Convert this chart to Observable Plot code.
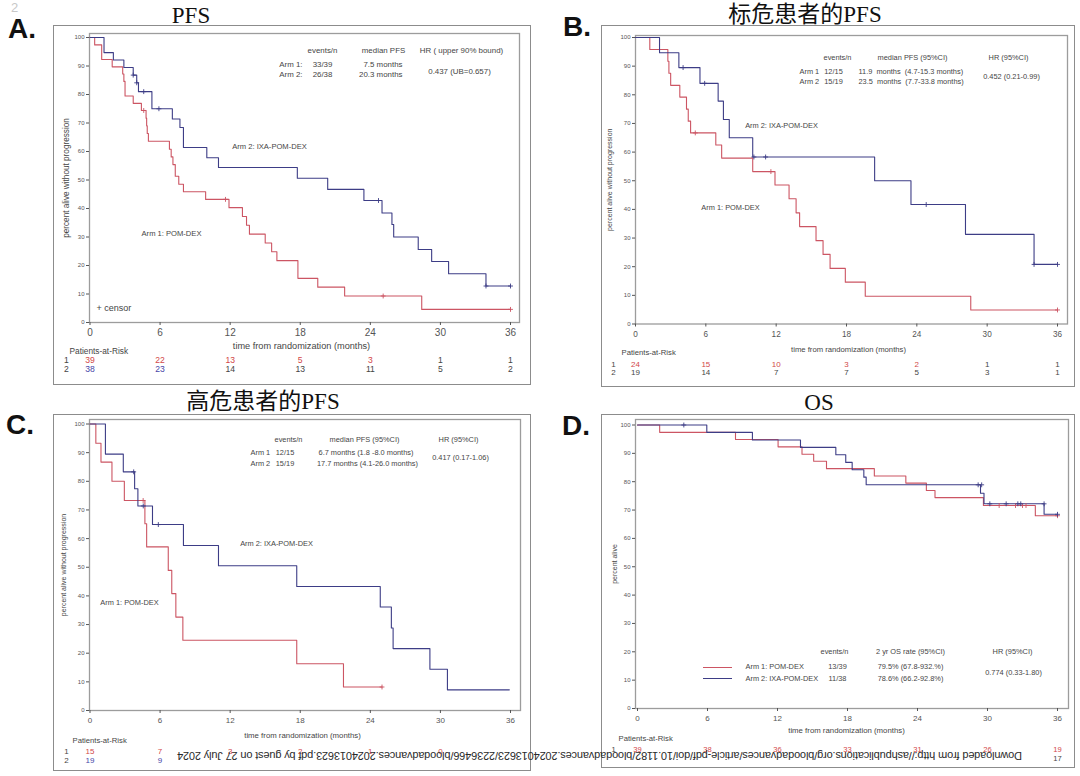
<!DOCTYPE html>
<html><head><meta charset="utf-8">
<script src="https://cdn.jsdelivr.net/npm/d3@7"></script>
<script src="https://cdn.jsdelivr.net/npm/@observablehq/plot@0.6"></script>
<style>
body{margin:0;background:#fff;}
#root{position:relative;width:1080px;height:776px;overflow:hidden;background:#fff;font-family:"Liberation Sans",Arial,sans-serif;}
.box{position:absolute;border:1.5px solid #8c8c8c;box-sizing:border-box;}
.title{position:absolute;font-family:"Liberation Serif","Noto Sans CJK SC",serif;font-size:23px;color:#111;transform:translate(-50%,-50%);white-space:nowrap;line-height:1;}
.letter{position:absolute;font-family:"Liberation Sans",Arial,sans-serif;font-weight:bold;font-size:28px;color:#111;transform:translateY(-50%);line-height:1;}
.swatch{position:absolute;height:0;border-top:1.2px solid;}
</style></head><body><div id="root"></div>
<script>
// ---------- shared ticks ----------
const monthTicks = [0, 6, 12, 18, 24, 30, 36];
const pctTicks = [0, 10, 20, 30, 40, 50, 60, 70, 80, 90, 100];

// ---------- Panel A: PFS ----------
const aArm1Time = [0, 0.4, 1.0, 1.9, 2.8, 2.9, 3.0, 3.7, 4.4, 4.8, 4.85, 4.9, 5.0, 6.8, 6.95, 7.1, 7.3, 7.6, 8.0, 9.9, 11.9, 13.05, 13.4, 13.65, 15.0, 15.55, 16.0, 17.8, 19.5, 21.8, 28.4, 36];
const aArm1Pct  = [100, 97.4, 92.3, 89.7, 87.2, 84.6, 79.5, 76.9, 74.4, 71.7, 69.0, 66.3, 63.6, 60.8, 58.1, 55.4, 51.3, 48.5, 45.9, 43.2, 40.3, 37.2, 34.1, 31.0, 27.9, 24.8, 21.7, 15.5, 12.4, 9.3, 4.6, 4.6];
const aArm2Time = [0, 1.2, 2.0, 2.9, 3.7, 4.0, 4.15, 5.3, 7.05, 7.7, 8.0, 10.0, 11.0, 17.75, 20.35, 23.45, 25.0, 25.85, 26.0, 28.1, 29.25, 30.7, 33.9, 36];
const aArm2Pct  = [100, 94.7, 92.1, 89.5, 86.8, 84.1, 81.0, 75.0, 71.4, 68.4, 61.4, 57.8, 54.4, 50.6, 46.7, 42.8, 38.4, 34.4, 30.0, 25.6, 21.4, 17.1, 12.8, 12.8];
const aCens1Time = [4.6, 11.6, 25.1, 36];
const aCens1Pct  = [74.4, 43.2, 9.3, 4.6];
const aCens2Time = [3.7, 4.0, 4.6, 5.9, 24.7, 33.9, 36];
const aCens2Pct  = [86.8, 84.1, 81.0, 75.0, 42.8, 12.8, 12.8];
const aRisk1 = [39, 22, 13, 5, 3, 1, 1];
const aRisk2 = [38, 23, 14, 13, 11, 5, 2];

// ---------- Panel B: standard-risk PFS ----------
const bArm1Time = [0, 1.22, 2.76, 2.85, 3.0, 3.78, 4.35, 4.5, 4.7, 6.85, 7.35, 10.0, 11.9, 13.1, 13.7, 14.0, 15.4, 16.0, 16.6, 17.9, 19.6, 28.6, 36];
const bArm1Pct  = [100, 95.8, 91.7, 87.5, 83.3, 79.2, 75.0, 70.8, 66.7, 62.5, 57.9, 53.2, 48.5, 43.7, 38.8, 34.0, 29.1, 24.3, 19.4, 14.6, 9.7, 4.9, 4.9];
const bArm2Time = [0, 2.05, 3.7, 5.5, 7.05, 7.5, 8.0, 10.0, 20.4, 23.5, 28.15, 34.0, 36];
const bArm2Pct  = [100, 94.7, 89.5, 84.0, 77.8, 71.4, 65.0, 58.3, 50.0, 41.7, 31.3, 20.8, 20.8];
const bCens1Time = [5.1, 11.55, 36];
const bCens1Pct  = [66.7, 53.2, 4.9];
const bCens2Time = [4.06, 5.9, 10.1, 11.1, 24.8, 34.0, 36];
const bCens2Pct  = [89.5, 84.0, 58.3, 58.3, 41.7, 20.8, 20.8];
const bRisk1 = [24, 15, 10, 3, 2, 1, 1];
const bRisk2 = [19, 14, 7, 7, 5, 3, 1];

// ---------- Panel C: high-risk PFS ----------
const cArm1Time = [0, 0.5, 0.94, 1.88, 2.94, 4.7, 4.85, 6.7, 7.0, 7.35, 7.95, 17.7, 21.7, 25.0];
const cArm1Pct  = [100, 93.3, 86.7, 80.0, 73.3, 65.2, 57.1, 48.9, 40.8, 32.6, 24.5, 16.3, 8.2, 8.2];
const cArm2Time = [0, 1.32, 2.85, 3.82, 4.1, 5.35, 8.0, 11.0, 17.7, 24.85, 25.8, 25.95, 29.1, 30.6, 35.9];
const cArm2Pct  = [100, 89.5, 83.3, 77.4, 71.4, 64.9, 57.6, 50.5, 43.3, 36.1, 28.8, 21.6, 14.4, 7.2, 7.2];
const cCens1Time = [4.55, 25.0];
const cCens1Pct  = [73.3, 8.2];
const cCens2Time = [3.74, 4.56, 5.85];
const cCens2Pct  = [83.3, 71.4, 64.9];
const cRisk1 = [15, 7, 3, 2, 1, 0];
const cRisk2 = [19, 9];

// ---------- Panel D: OS ----------
const dArm1Time = [0, 1.9, 8.4, 12.05, 14.1, 15.1, 16.2, 20.3, 23.0, 24.76, 25.5, 29.65, 34.1, 36];
const dArm1Pct  = [100, 97.4, 94.9, 92.3, 89.7, 87.2, 84.6, 82.0, 79.5, 76.9, 74.4, 71.6, 68.0, 68.0];
const dArm2Time = [0, 5.94, 9.85, 13.97, 17.0, 17.85, 18.4, 19.4, 19.6, 29.4, 29.7, 34.85, 36];
const dArm2Pct  = [100, 97.4, 94.7, 92.1, 89.5, 86.8, 84.2, 81.6, 78.9, 75.9, 72.2, 68.5, 68.5];
const dCens1Time = [31.0, 32.4, 33.0, 33.3, 36];
const dCens1Pct  = [71.6, 71.6, 71.6, 71.6, 68.0];
const dCens2Time = [3.97, 29.2, 29.5, 30.2, 31.6, 32.6, 32.85, 34.85, 36];
const dCens2Pct  = [100, 78.9, 78.9, 72.2, 72.2, 72.2, 72.2, 72.2, 68.5];
const dRisk1 = [39, 38, 36, 33, 31, 26, 19];
const dRisk2Time = [36];
const dRisk2 = [17];

// ---------- helpers ----------
const RED = "#cc5563", BLUE = "#3d3d86", INK = "#454545";
const RISK_RED = "#d24848", RISK_BLUE = "#4646a8";
const pts = (t, s) => t.map((x, i) => ({t: x, s: s[i]}));
const risk = (t, n) => n.map((v, i) => ({t: t[i], n: String(v), i}));
const root = document.getElementById("root");

function addDiv(cls, text, left, top, extra = {}) {
  const el = document.createElement("div");
  el.className = cls;
  if (text != null) el.textContent = text;
  el.style.left = left + "px";
  el.style.top = top + "px";
  Object.assign(el.style, extra);
  root.appendChild(el);
  return el;
}

function panel(p) {
  const [bl, bt, br, bb] = p.box, [fl, ft, fr, fb] = p.frame;
  const ppm = (p.x36 - p.x0) / 36, ppp = (p.y0 - p.y100) / 100;
  const xd = [(fl - p.x0) / ppm, (fr - p.x0) / ppm];
  const yd = [(p.y0 - fb) / ppp, (p.y0 - ft) / ppp];
  const at = (str, px, py, o = {}) => Plot.text([str], {
    text: d => d, frameAnchor: "top-left", dx: px - fl, dy: py - ft,
    textAnchor: o.anchor ?? "start", lineAnchor: "middle",
    fontSize: o.size ?? p.statSize, fill: o.fill ?? INK, rotate: o.rotate ?? 0
  });
  const riskMark = (data, rowY, inkN, inkColor) => Plot.text(data, {
    x: "t", text: "n", frameAnchor: "bottom", dy: rowY - fb, lineAnchor: "middle",
    textAnchor: "middle", fontSize: p.riskSize,
    fill: d => d.i < inkN ? inkColor : INK
  });
  const marks = [
    Plot.frame({stroke: "#9c9c9c", strokeWidth: 1.3}),
    Plot.axisY({ticks: pctTicks, tickSize: 3, tickPadding: 2, fontSize: p.yTickSize, color: "#555", label: null}),
    Plot.axisX({ticks: monthTicks, tickSize: 3, tickPadding: p.xTickPad, fontSize: p.xTickSize, color: "#555", label: null}),
    Plot.line(p.arm1, {x: "t", y: "s", curve: "step-after", stroke: RED, strokeWidth: 1.1}),
    Plot.line(p.arm2, {x: "t", y: "s", curve: "step-after", stroke: BLUE, strokeWidth: 1.1}),
    Plot.dot(p.cens1, {x: "t", y: "s", symbol: "plus", r: 1.7, stroke: RED, strokeWidth: 0.9}),
    Plot.dot(p.cens2, {x: "t", y: "s", symbol: "plus", r: 1.7, stroke: BLUE, strokeWidth: 0.9}),
    riskMark(p.risk1, p.row1, p.ink1, RISK_RED),
    riskMark(p.risk2, p.row2, p.ink2, RISK_BLUE),
    at(p.ylabel, p.ylabelX, (ft + fb) / 2, {anchor: "middle", rotate: -90, size: p.ylabelSize}),
    at("time from randomization (months)", p.xlabelX, p.xlabelY, {anchor: "middle", size: p.xlabelSize}),
    at("Patients-at-Risk", p.parX, p.parY, {size: p.parSize}),
    ...p.rowLabels.map(([s, y]) => at(s, p.rowLabelX, y, {anchor: "middle", size: p.riskSize})),
    ...p.notes.map(([s, x, y, anchor, size]) => at(s, x, y, {anchor, size}))
  ];
  const svg = Plot.plot({
    width: br - bl, height: bb - bt,
    marginLeft: fl - bl, marginTop: ft - bt, marginRight: br - fr, marginBottom: bb - fb,
    x: {domain: xd, label: null}, y: {domain: yd, label: null},
    color: {type: "identity"},
    style: {fontFamily: "'Liberation Sans', Arial, sans-serif", background: "transparent", overflow: "visible"},
    marks
  });
  svg.style.position = "absolute";
  svg.style.left = bl + "px";
  svg.style.top = bt + "px";
  root.appendChild(svg);
  addDiv("box", null, bl, bt, {width: (br - bl) + "px", height: (bb - bt) + "px"});
}

// ---------- Panel A ----------
panel({
  box: [53, 25, 531, 385], frame: [89, 33, 519, 322], x0: 89.5, x36: 510, y100: 37, y0: 322,
  arm1: pts(aArm1Time, aArm1Pct), arm2: pts(aArm2Time, aArm2Pct),
  cens1: pts(aCens1Time, aCens1Pct), cens2: pts(aCens2Time, aCens2Pct),
  risk1: risk(monthTicks, aRisk1), risk2: risk(monthTicks, aRisk2), ink1: 5, ink2: 2,
  row1: 360, row2: 369, riskSize: 8.6, yTickSize: 6, xTickSize: 10, xTickPad: 3, statSize: 7.9,
  ylabel: "percent alive without progression", ylabelX: 66, ylabelSize: 8.2,
  xlabelX: 301, xlabelY: 346, xlabelSize: 9.2, parX: 69, parY: 351, parSize: 8.3,
  rowLabelX: 66, rowLabels: [["1", 360], ["2", 369]],
  notes: [
    ["events/n", 322, 50, "middle"], ["median PFS", 383, 50, "middle"], ["HR ( upper 90% bound)", 461, 50, "middle"],
    ["Arm 1:", 302, 63.5, "end"], ["33/39", 322, 63.5, "middle"], ["7.5 months", 402, 63.5, "end"],
    ["Arm 2:", 302, 74, "end"], ["26/38", 322, 74, "middle"], ["20.3 months", 402, 74, "end"],
    ["0.437 (UB=0.657)", 459, 71, "middle"],
    ["Arm 2: IXA-POM-DEX", 269, 146, "middle", 7.6],
    ["Arm 1: POM-DEX", 171, 233, "middle", 7.6],
    ["+ censor", 96, 308, "start", 9]
  ]
});

// ---------- Panel B ----------
panel({
  box: [601, 25, 1075, 387], frame: [635, 35, 1067, 323.5], x0: 635, x36: 1057, y100: 37, y0: 323.5,
  arm1: pts(bArm1Time, bArm1Pct), arm2: pts(bArm2Time, bArm2Pct),
  cens1: pts(bCens1Time, bCens1Pct), cens2: pts(bCens2Time, bCens2Pct),
  risk1: risk(monthTicks, bRisk1), risk2: risk(monthTicks, bRisk2), ink1: 5, ink2: 0,
  row1: 364, row2: 372, riskSize: 8, yTickSize: 6, xTickSize: 8.2, xTickPad: 4, statSize: 7.4,
  ylabel: "percent alive without progression", ylabelX: 609, ylabelSize: 7,
  xlabelX: 848, xlabelY: 349, xlabelSize: 7.7, parX: 621, parY: 352, parSize: 7.7,
  rowLabelX: 613, rowLabels: [["1", 364], ["2", 372]],
  notes: [
    ["events/n", 837, 57, "middle"], ["median PFS (95%CI)", 912, 57, "middle"], ["HR (95%CI)", 1008, 57, "middle"],
    ["Arm 1", 799, 71, "start"], ["12/15", 833, 71, "middle"], ["11.9  months  (4.7-15.3 months)", 858, 71, "start"],
    ["Arm 2", 799, 81.5, "start"], ["15/19", 833, 81.5, "middle"], ["23.5  months  (7.7-33.8 months)", 858, 81.5, "start"],
    ["0.452 (0.21-0.99)", 1011, 76.5, "middle"],
    ["Arm 2: IXA-POM-DEX", 781, 125, "middle", 7.4],
    ["Arm 1: POM-DEX", 730, 207, "middle", 7.4]
  ]
});

// ---------- Panel C ----------
panel({
  box: [53, 414, 531, 771], frame: [89, 419, 520, 710], x0: 89.5, x36: 510, y100: 423.5, y0: 710,
  arm1: pts(cArm1Time, cArm1Pct), arm2: pts(cArm2Time, cArm2Pct),
  cens1: pts(cCens1Time, cCens1Pct), cens2: pts(cCens2Time, cCens2Pct),
  risk1: risk(monthTicks, cRisk1), risk2: risk(monthTicks, cRisk2), ink1: 6, ink2: 2,
  row1: 750.5, row2: 759.5, riskSize: 8, yTickSize: 6, xTickSize: 8, xTickPad: 4, statSize: 7.4,
  ylabel: "percent alive without progression", ylabelX: 63, ylabelSize: 7,
  xlabelX: 302, xlabelY: 735, xlabelSize: 7.8, parX: 72, parY: 740, parSize: 7.7,
  rowLabelX: 66, rowLabels: [["1", 750.5], ["2", 759.5]],
  notes: [
    ["events/n", 288, 439, "middle"], ["median PFS (95%CI)", 364, 439, "middle"], ["HR (95%CI)", 458, 439, "middle"],
    ["Arm 1", 250, 452.5, "start"], ["12/15", 284.5, 452.5, "middle"], ["6.7 months (1.8 -8.0 months)", 365.5, 452.5, "middle"],
    ["Arm 2", 250, 463, "start"], ["15/19", 284.5, 463, "middle"], ["17.7 months (4.1-26.0 months)", 367, 463, "middle"],
    ["0.417 (0.17-1.06)", 460, 457.5, "middle"],
    ["Arm 2: IXA-POM-DEX", 276, 543, "middle", 7.4],
    ["Arm 1: POM-DEX", 129, 602, "middle", 7.4]
  ]
});

// ---------- Panel D ----------
panel({
  box: [601, 414, 1075, 768], frame: [635, 419, 1068, 708], x0: 637, x36: 1057, y100: 424.5, y0: 708,
  arm1: pts(dArm1Time, dArm1Pct), arm2: pts(dArm2Time, dArm2Pct),
  cens1: pts(dCens1Time, dCens1Pct), cens2: pts(dCens2Time, dCens2Pct),
  risk1: risk(monthTicks, dRisk1), risk2: risk(dRisk2Time, dRisk2), ink1: 7, ink2: 0,
  row1: 749.5, row2: 758.5, riskSize: 7.6, yTickSize: 6, xTickSize: 8, xTickPad: 4, statSize: 7.4,
  ylabel: "percent alive", ylabelX: 614, ylabelSize: 7,
  xlabelX: 846, xlabelY: 730, xlabelSize: 7.8, parX: 618, parY: 738, parSize: 7.7,
  rowLabelX: 613, rowLabels: [["1", 749.5]],
  notes: [
    ["events/n", 834, 651, "middle"], ["2 yr OS rate (95%CI)", 910, 651, "middle"], ["HR (95%CI)", 1012, 651, "middle"],
    ["Arm 1: POM-DEX", 745, 666, "start"], ["13/39", 837, 666, "middle"], ["79.5% (67.8-932.%)", 910, 666, "middle"],
    ["Arm 2: IXA-POM-DEX", 745, 678, "start"], ["11/38", 837, 678, "middle"], ["78.6% (66.2-92.8%)", 910, 678, "middle"],
    ["0.774 (0.33-1.80)", 1013, 672, "middle"]
  ]
});
addDiv("swatch", null, 703, 667, {width: "29px", borderTopColor: RED});
addDiv("swatch", null, 703, 678, {width: "29px", borderTopColor: BLUE});

// ---------- titles and panel letters ----------
addDiv("title", "PFS", 191, 15);
addDiv("title", "标危患者的PFS", 805, 14);
addDiv("title", "高危患者的PFS", 263, 401);
addDiv("title", "OS", 819, 402);
addDiv("letter", "2", 11, 7, {color: "#c8c8c8", fontWeight: "normal", fontSize: "13px"});
addDiv("letter", "A.", 8, 29);
addDiv("letter", "B.", 563, 27);
addDiv("letter", "C.", 6, 425);
addDiv("letter", "D.", 562, 426);

// ---------- upside-down download stamp ----------
const NS = "http://www.w3.org/2000/svg";
const stamp = document.createElementNS(NS, "svg");
stamp.setAttribute("width", 1080); stamp.setAttribute("height", 776);
Object.assign(stamp.style, {position: "absolute", left: "0px", top: "0px", pointerEvents: "none"});
const st = document.createElementNS(NS, "text");
st.setAttribute("x", 599.5); st.setAttribute("y", 755);
st.setAttribute("text-anchor", "middle"); st.setAttribute("dominant-baseline", "middle");
st.setAttribute("transform", "rotate(180 599.5 755)");
st.setAttribute("textLength", 845); st.setAttribute("lengthAdjust", "spacing");
st.setAttribute("font-family", "Liberation Sans, Arial, sans-serif");
st.setAttribute("font-size", "11"); st.setAttribute("fill", "#2a2a2a");
st.textContent = "Downloaded from http://ashpublications.org/bloodadvances/article-pdf/doi/10.1182/bloodadvances.2024013623/2236466/bloodadvances.2024013623.pdf by guest on 27 July 2024";
stamp.appendChild(st);
root.appendChild(stamp);
</script></body></html>
